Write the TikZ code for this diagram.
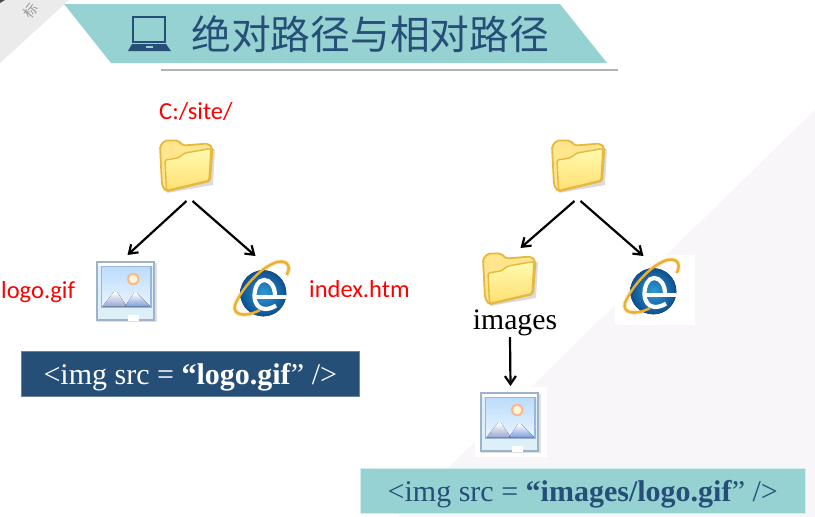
\documentclass[tikz,border=0pt]{standalone}
\usepackage{fontspec}
\setmainfont{Liberation Serif}
\newfontfamily\cjk{Noto Sans CJK SC}
\newfontfamily\lab{Carlito}
\usetikzlibrary{arrows.meta,calc}
\definecolor{teal1}{HTML}{97D2D3}
\definecolor{navy1}{HTML}{264F78}
\definecolor{bgfaint}{HTML}{F8F6F8}
\definecolor{cornergrey}{HTML}{EBEBEB}
\definecolor{foldedge}{HTML}{E5B840}
\definecolor{foldback}{HTML}{FFE68C}
\definecolor{foldtop}{HTML}{FFFAB0}
\definecolor{foldbot}{HTML}{FFE070}
\definecolor{frameedge}{HTML}{9FB3C8}
\definecolor{picedge}{HTML}{9DB5D9}
\definecolor{skytop}{HTML}{BCDCFB}
\definecolor{skybot}{HTML}{EAF5FE}
\definecolor{stripfill}{HTML}{DDF0FA}
\definecolor{mountl}{HTML}{9AA7D0}
\definecolor{mountr}{HTML}{7E9FDD}
\definecolor{sunout}{HTML}{F9B98E}
\definecolor{sunin}{HTML}{FFF3D8}
\definecolor{iegold}{HTML}{EDB02E}
\definecolor{iein}{HTML}{2E9BD6}
\definecolor{ieout}{HTML}{0E4F8F}
\tikzset{
  x=1pt,y=-1pt,
  conn/.style={draw=black,line width=2.2pt,-{Straight Barb[length=8pt,width=11pt,line width=2.2pt]}},
  iconbox/.style={minimum width=#1,minimum height=#1,inner sep=0pt,outer sep=0pt},
  redlabel/.style={text=red,font=\lab\fontsize{24.5}{28}\selectfont,inner sep=0pt},
  codebox/.style={inner sep=0pt,minimum height=45pt,text height=26pt,text depth=4pt,font=\fontsize{30}{34}\selectfont},
  foldericon/.pic={
    \fill[black!40,opacity=.35] (8,54) -- (54,46) -- (56,10) -- (50,10) -- cycle;
    \draw[foldedge,line width=1.8pt,fill=foldback,rounded corners=2pt]
      (3,46) -- (1,7) -- (6,1.5) -- (19,1.5) -- (24,6.5) -- (49,4.5) -- (53.5,9) -- (51,42) -- (7,52.5) -- cycle;
    \draw[foldedge,line width=1.4pt,top color=foldtop,bottom color=foldbot,rounded corners=1.5pt]
      (6,21) -- (19,19) -- (26,14) -- (52,9.5) -- (50,41.5) -- (7.5,51.5) -- cycle;
  },
  imageicon/.pic={
    \fill[black!12] (1,2) rectangle (60.5,60.5);
    \fill[stripfill] (0,0) rectangle (59,59);
    \draw[frameedge,line width=2pt] (32,58.5) -- (0.8,58.5) -- (0.8,0.8) -- (58.2,0.8) -- (58.2,58.5) -- (43,58.5);
    \fill[white] (1.8,1.8) rectangle (57.2,5);
    \fill[white] (32,53.5) rectangle (43,60);
    \draw[picedge,line width=1.4pt,top color=skytop,bottom color=skybot] (5.7,5.7) rectangle (55,46);
    \fill[sunout] (37.3,18) circle (6.3);
    \fill[sunin] (37.3,18) circle (4.2);
    \fill[top color=white,bottom color=mountl] (6.5,45.3) -- (18,31) -- (21,31) -- (31,45.3) -- cycle;
    \fill[top color=white,bottom color=mountr] (29,45.3) -- (38,32) -- (41,32) -- (54.3,45.3) -- cycle;
  },
  ieicon/.pic={
    \draw[iegold,opacity=.25,line width=4.5pt] (51.7,15) .. controls (58,3) and (48,0) .. (42,2) .. controls (24,8) and (6,30) .. (0,45) .. controls (-3,55) and (10,58) .. (25,50);
    \fill[inner color=iein,outer color=ieout] (28.3,33.3) circle (23);
    \draw[white,line width=4pt] (20,36.7) -- (50.5,36.7);
    \draw[white,line width=4.2pt] (40,36) .. controls (40,26) and (35,20) .. (29,20) .. controls (23,20) and (19.5,28) .. (19.5,36) .. controls (19.5,44) and (24,49) .. (30,49) .. controls (34,49) and (38,47.5) .. (41,45.5);
    \draw[iegold,line width=2.5pt] (51.7,15) .. controls (58,3) and (48,0) .. (42,2) .. controls (24,8) and (6,30) .. (0,45) .. controls (-3,55) and (10,58) .. (25,50);
  }
}
\begin{document}
\begin{tikzpicture}
\useasboundingbox (0,0) rectangle (815,517);
\fill[white] (0,0) rectangle (815,517);
% slide backdrop
\fill[bgfaint] (815,110) -- (398,517) -- (815,517) -- cycle;
\fill[cornergrey] (0,0) -- (69,0) -- (0,63) -- cycle;
\fill[black!70] (0,0) -- (5,0) -- (0,3) -- cycle;
\node[rotate=52,text=black!40,font=\cjk\fontsize{14}{16}\selectfont,inner sep=0pt] (wm) at (31,11) {标};
% title ribbon
\fill[teal1] (64,4) -- (560,4) -- (607,63) -- (111,63) -- cycle;
\draw[black!30,line width=1.5pt] (161,70) -- (618,70);
\node[text=navy1,font=\cjk\fontsize{39.8}{44}\selectfont,anchor=west,inner sep=0pt] (title) at (191,34) {绝对路径与相对路径};
% laptop
\draw[navy1,line width=1.7pt] (133,17) rectangle (165,42);
\fill[navy1] (132,44) -- (166,44) -- (171,51) -- (128,51) -- cycle;
\fill[teal1] (146,45.5) rectangle (153,47.5);
% white patches behind icons
\fill[white] (615,255) rectangle (695,325);
\fill[white] (475,387) rectangle (547,457);
% left tree
\node[redlabel,anchor=west] (lsite) at (159,112) {C:/site/};
\node[iconbox=55pt,anchor=north west] (lroot) at (159,139) {};
\pic at (lroot.north west) {foldericon};
\node[iconbox=59pt,anchor=north west] (limg) at (96,261) {};
\pic at (limg.north west) {imageicon};
\node[iconbox=59pt,anchor=north west] (lie) at (235,260) {};
\pic at (lie.north west) {ieicon};
\node[redlabel,anchor=west] (llogo) at (1,292) {logo.gif};
\node[redlabel,anchor=west] (lindex) at (309,289) {index.htm};
\draw[conn] ($(lroot.south)+(0,7)$) -- ($(limg.north)+(2,-6)$);
\draw[conn] ($(lroot.south)+(6,7)$) -- ($(lie.north)+(-9,-4)$);
\node[codebox,anchor=north west,fill=navy1,draw=navy1!70!white,line width=.6pt,minimum width=338pt,text=white] (lcode) at (21,351) {<img src = \textbf{“logo.gif}” />};
% right tree
\node[iconbox=55pt,anchor=north west] (rroot) at (551,139) {};
\pic at (rroot.north west) {foldericon};
\node[iconbox=55pt,anchor=north west] (rsub) at (482,252) {};
\pic at (rsub.north west) {foldericon};
\node[iconbox=59pt,anchor=north west] (rie) at (625,258) {};
\pic at (rie.north west) {ieicon};
\node[iconbox=59pt,anchor=north west] (rimg) at (480,392) {};
\pic at (rimg.north west) {imageicon};
\node[text=black,font=\fontsize{29.7}{34}\selectfont,inner sep=0pt] (rlabel) at (515,323) {images};
\draw[conn] ($(rroot.south)+(-4,7)$) -- ($(rsub.north)+(11,-4)$);
\draw[conn] ($(rroot.south)+(2,7)$) -- ($(rie.north)+(-11,-2)$);
\draw[conn] ($(rlabel.south)+(-5,1)$) -- ($(rimg.north)+(1,-6)$);
\node[codebox,anchor=north west,fill=teal1,draw=white!60!teal1,line width=.6pt,minimum width=445pt,text=navy1] (rcode) at (360,468) {<img src = \textbf{“images/logo.gif}” />};
\end{tikzpicture}
\end{document}
